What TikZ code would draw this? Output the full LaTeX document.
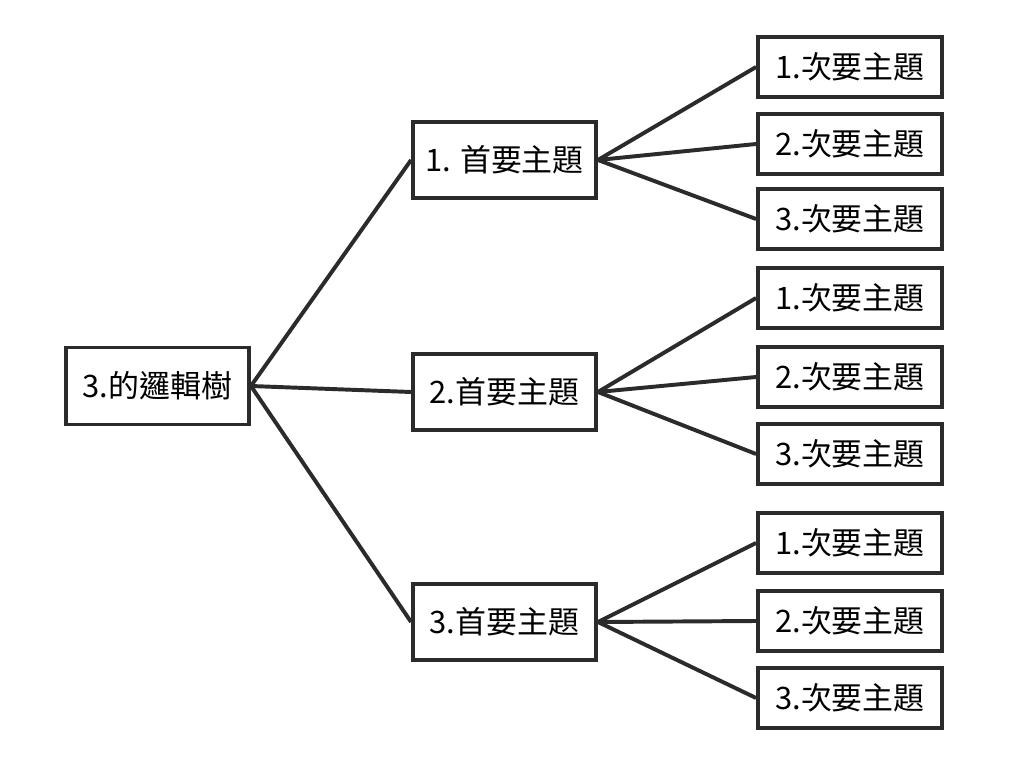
\documentclass[tikz,border=0pt]{standalone}
\usepackage{fontspec}
\setmainfont{Noto Sans CJK TC}
\usepackage{tikz}
\usetikzlibrary{positioning}

\definecolor{ink}{HTML}{2B2B2B}
\tikzset{
  rootbox/.style={draw=ink, line width=2.7pt, fill=white, minimum width=4.575cm, minimum height=1.925cm, inner sep=0pt, font=\fontsize{22}{26}\selectfont},
  mainbox/.style={rootbox, minimum height=1.9cm},
  subbox/.style={rootbox, minimum width=4.6cm, minimum height=1.5cm},
  link/.style={draw=ink, line width=2.8pt}
}

\begin{document}
\begin{tikzpicture}[x=0.025cm, y=-0.025cm]
\useasboundingbox (0,0) rectangle (1019,761);
% root
\node[rootbox] (root) at (157.5,386) {3.的邏輯樹};
% main topics
\node[mainbox] (m1) at (504.5,160) {1. 首要主題};
\node[mainbox] (m2) at (504.5,392) {2.首要主題};
\node[mainbox] (m3) at (504.5,622) {3.首要主題};
% sub topics
\node[subbox] (s11) at (850,67) {1.次要主題};
\node[subbox] (s12) at (850,144) {2.次要主題};
\node[subbox] (s13) at (850,219) {3.次要主題};
\node[subbox] (s21) at (850,298) {1.次要主題};
\node[subbox] (s22) at (850,377) {2.次要主題};
\node[subbox] (s23) at (850,454) {3.次要主題};
\node[subbox] (s31) at (850,543) {1.次要主題};
\node[subbox] (s32) at (850,621) {2.次要主題};
\node[subbox] (s33) at (850,698) {3.次要主題};
% links
\draw[link] (root.east) -- (m1.west);
\draw[link] (root.east) -- (m2.west);
\draw[link] (root.east) -- (m3.west);
\draw[link] (m1.east) -- (s11.west);
\draw[link] (m1.east) -- (s12.west);
\draw[link] (m1.east) -- (s13.west);
\draw[link] (m2.east) -- (s21.west);
\draw[link] (m2.east) -- (s22.west);
\draw[link] (m2.east) -- (s23.west);
\draw[link] (m3.east) -- (s31.west);
\draw[link] (m3.east) -- (s32.west);
\draw[link] (m3.east) -- (s33.west);
\end{tikzpicture}
\end{document}
